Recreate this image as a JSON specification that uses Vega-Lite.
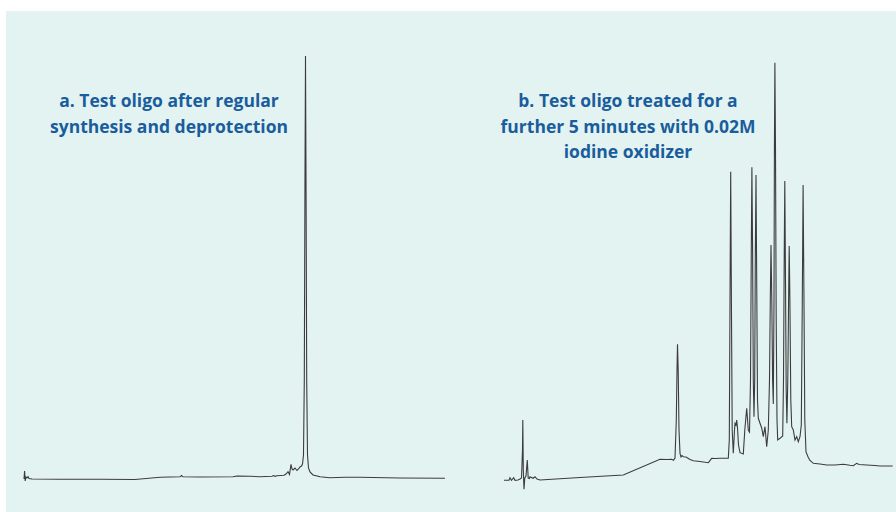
{
  "$schema": "https://vega.github.io/schema/vega-lite/v6.json",
  "width": 896,
  "height": 512,
  "autosize": {"type": "fit", "contains": "padding"},
  "padding": {"left": 6, "top": 11, "right": 0, "bottom": 0},
  "background": "#ffffff",
  "config": {"view": {"fill": "#e3f3f2", "stroke": null}},
  "datasets": {
    "trace": [
      {"p":"a","t":24,"s":33},{"p":"a","t":24.6,"s":41},{"p":"a","t":25.2,"s":31},{"p":"a","t":26,"s":35},{"p":"a","t":27,"s":34},{"p":"a","t":28,"s":35.5},{"p":"a","t":29,"s":33.5},{"p":"a","t":32,"s":33},{"p":"a","t":60,"s":32.8},{"p":"a","t":100,"s":32.7},{"p":"a","t":135,"s":32.5},{"p":"a","t":160,"s":34.7},{"p":"a","t":180,"s":35.2},{"p":"a","t":181.5,"s":36.5},{"p":"a","t":183,"s":35.2},{"p":"a","t":200,"s":35},{"p":"a","t":233,"s":35.3},{"p":"a","t":237,"s":36},{"p":"a","t":250,"s":35.7},{"p":"a","t":260,"s":35.3},{"p":"a","t":272,"s":35.7},{"p":"a","t":273.5,"s":36.5},{"p":"a","t":275,"s":35.7},{"p":"a","t":277,"s":36.2},{"p":"a","t":284,"s":36.7},{"p":"a","t":286,"s":38},{"p":"a","t":288,"s":40.3},{"p":"a","t":289.5,"s":37.5},{"p":"a","t":291,"s":47.7},{"p":"a","t":292,"s":43},{"p":"a","t":293,"s":42},{"p":"a","t":295,"s":44},{"p":"a","t":297,"s":41.5},{"p":"a","t":298.5,"s":43},{"p":"a","t":300,"s":45},{"p":"a","t":301.5,"s":46},{"p":"a","t":302.5,"s":48},{"p":"a","t":303.5,"s":57},{"p":"a","t":304.3,"s":132},{"p":"a","t":304.9,"s":312},{"p":"a","t":305.5,"s":456},{"p":"a","t":306.1,"s":312},{"p":"a","t":306.7,"s":132},{"p":"a","t":307.5,"s":57},{"p":"a","t":308.5,"s":44},{"p":"a","t":310,"s":40},{"p":"a","t":313,"s":37},{"p":"a","t":320,"s":35.3},{"p":"a","t":330,"s":34.3},{"p":"a","t":345,"s":34.7},{"p":"a","t":360,"s":34.7},{"p":"a","t":400,"s":34},{"p":"a","t":445,"s":33.7},
      {"p":"b","t":504,"s":31.7},{"p":"b","t":509,"s":31.7},{"p":"b","t":510,"s":34.3},{"p":"b","t":511.5,"s":31.7},{"p":"b","t":513.7,"s":34.3},{"p":"b","t":515,"s":31.7},{"p":"b","t":518,"s":32},{"p":"b","t":520,"s":33},{"p":"b","t":521.5,"s":34},{"p":"b","t":522.5,"s":62},{"p":"b","t":522.8,"s":92},{"p":"b","t":523.3,"s":42},{"p":"b","t":524,"s":22.7},{"p":"b","t":524.8,"s":34},{"p":"b","t":526,"s":36},{"p":"b","t":527.3,"s":52},{"p":"b","t":528.2,"s":34},{"p":"b","t":529.5,"s":33.5},{"p":"b","t":530,"s":35.3},{"p":"b","t":533,"s":33.7},{"p":"b","t":535,"s":35.3},{"p":"b","t":537,"s":33},{"p":"b","t":540,"s":32},{"p":"b","t":580,"s":34.5},{"p":"b","t":623.3,"s":37},{"p":"b","t":660,"s":52.7},{"p":"b","t":667,"s":52.5},{"p":"b","t":671.7,"s":52.7},{"p":"b","t":673.5,"s":51.7},{"p":"b","t":675,"s":54},{"p":"b","t":676.3,"s":92},{"p":"b","t":677,"s":142},{"p":"b","t":677.5,"s":167.7},{"p":"b","t":678.2,"s":142},{"p":"b","t":679,"s":82},{"p":"b","t":680,"s":58.7},{"p":"b","t":681,"s":55},{"p":"b","t":682,"s":56.5},{"p":"b","t":683.3,"s":55.3},{"p":"b","t":686,"s":55},{"p":"b","t":690,"s":52.5},{"p":"b","t":693.3,"s":51.3},{"p":"b","t":700,"s":50.5},{"p":"b","t":708.3,"s":49.3},{"p":"b","t":711.7,"s":53.7},{"p":"b","t":715,"s":53.5},{"p":"b","t":720,"s":53.7},{"p":"b","t":728.3,"s":53.7},{"p":"b","t":729.3,"s":72},{"p":"b","t":730,"s":212},{"p":"b","t":730.7,"s":340.3},{"p":"b","t":731.4,"s":212},{"p":"b","t":732.2,"s":82},{"p":"b","t":733.3,"s":58.7},{"p":"b","t":734.5,"s":82},{"p":"b","t":735,"s":88.7},{"p":"b","t":736,"s":87},{"p":"b","t":736.7,"s":92},{"p":"b","t":737.5,"s":84},{"p":"b","t":738.5,"s":67},{"p":"b","t":740,"s":59.3},{"p":"b","t":743.3,"s":58},{"p":"b","t":744.8,"s":82},{"p":"b","t":746.7,"s":103.7},{"p":"b","t":748.3,"s":82},{"p":"b","t":749.5,"s":80},{"p":"b","t":750.5,"s":132},{"p":"b","t":751.3,"s":262},{"p":"b","t":751.9,"s":344.7},{"p":"b","t":752.6,"s":262},{"p":"b","t":753.3,"s":132},{"p":"b","t":754,"s":95.3},{"p":"b","t":754.7,"s":132},{"p":"b","t":755.3,"s":252},{"p":"b","t":756,"s":337},{"p":"b","t":756.7,"s":232},{"p":"b","t":757.5,"s":112},{"p":"b","t":758.3,"s":93.7},{"p":"b","t":760,"s":88.7},{"p":"b","t":761.7,"s":84},{"p":"b","t":763.3,"s":75.3},{"p":"b","t":765,"s":85.3},{"p":"b","t":766.7,"s":65.3},{"p":"b","t":768.3,"s":82},{"p":"b","t":769.5,"s":132},{"p":"b","t":770.3,"s":212},{"p":"b","t":771,"s":267},{"p":"b","t":771.8,"s":212},{"p":"b","t":772.6,"s":132},{"p":"b","t":773.3,"s":108},{"p":"b","t":774,"s":212},{"p":"b","t":774.4,"s":362},{"p":"b","t":774.9,"s":449.3},{"p":"b","t":775.5,"s":362},{"p":"b","t":776.2,"s":192},{"p":"b","t":777,"s":92},{"p":"b","t":777.7,"s":72},{"p":"b","t":780,"s":73.7},{"p":"b","t":782.7,"s":76},{"p":"b","t":783.5,"s":132},{"p":"b","t":784.2,"s":252},{"p":"b","t":784.8,"s":331},{"p":"b","t":785.5,"s":232},{"p":"b","t":786.2,"s":122},{"p":"b","t":786.9,"s":88.7},{"p":"b","t":787.8,"s":132},{"p":"b","t":788.6,"s":212},{"p":"b","t":789.2,"s":266},{"p":"b","t":789.9,"s":212},{"p":"b","t":790.8,"s":112},{"p":"b","t":791.7,"s":85.3},{"p":"b","t":793.3,"s":82},{"p":"b","t":795,"s":72},{"p":"b","t":796.7,"s":75.3},{"p":"b","t":798.3,"s":70.3},{"p":"b","t":800,"s":75.3},{"p":"b","t":801.3,"s":87},{"p":"b","t":802.3,"s":212},{"p":"b","t":803.1,"s":327},{"p":"b","t":803.9,"s":222},{"p":"b","t":804.8,"s":92},{"p":"b","t":806,"s":60},{"p":"b","t":808.3,"s":54.5},{"p":"b","t":810,"s":51.5},{"p":"b","t":813.3,"s":48.7},{"p":"b","t":820,"s":48},{"p":"b","t":826.7,"s":47},{"p":"b","t":835,"s":47},{"p":"b","t":843.3,"s":47.7},{"p":"b","t":850,"s":46.7},{"p":"b","t":853.3,"s":46.3},{"p":"b","t":856.7,"s":48.7},{"p":"b","t":859,"s":47.5},{"p":"b","t":866.7,"s":47},{"p":"b","t":875,"s":46.5},{"p":"b","t":880,"s":46},{"p":"b","t":892.7,"s":46}
    ],
    "titles": [
      {"t": 169, "s": 419, "label": ["a. Test oligo after regular", "synthesis and deprotection"]},
      {"t": 628, "s": 419, "label": ["b. Test oligo treated for a", "further 5 minutes with 0.02M", "iodine oxidizer"]}
    ]
  },
  "layer": [
    {
      "data": {"name": "trace"},
      "mark": {"type": "line", "color": "#3c3c3c", "strokeWidth": 1.1, "clip": true},
      "encoding": {
        "x": {"field": "t", "type": "quantitative", "scale": {"domain": [6, 896], "nice": false, "zero": false}, "axis": null},
        "y": {"field": "s", "type": "quantitative", "scale": {"domain": [0, 501], "nice": false}, "axis": null},
        "detail": {"field": "p"}
      }
    },
    {
      "data": {"name": "titles"},
      "mark": {"type": "text", "font": "Open Sans", "fontWeight": "bold", "fontSize": 17.5, "color": "#1a5d9c", "align": "center", "baseline": "top", "lineHeight": 25.5},
      "encoding": {
        "x": {"field": "t", "type": "quantitative"},
        "y": {"field": "s", "type": "quantitative"},
        "text": {"field": "label"}
      }
    }
  ]
}
